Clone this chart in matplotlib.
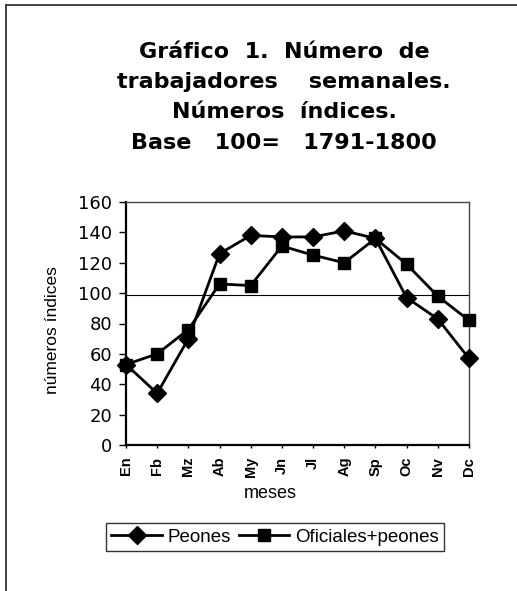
import matplotlib
matplotlib.use("Agg")
import matplotlib.pyplot as plt
from matplotlib.lines import Line2D

months = ["En", "Fb", "Mz", "Ab", "My", "Jn", "Jl", "Ag", "Sp", "Oc", "Nv", "Dc"]
peones = [53, 34, 70, 126, 138, 137, 137, 141, 136, 97, 83, 57]
oficiales = [53, 60, 76, 106, 105, 131, 125, 120, 136, 119, 98, 82]
ref_level = 99
yticks = [0, 20, 40, 60, 80, 100, 120, 140, 160]
title_lines = ["Gráfico  1.  Número  de",
               "trabajadores    semanales.",
               "Números  índices.",
               "Base   100=   1791-1800"]

plt.rcParams['font.family'] = ['Liberation Sans', 'DejaVu Sans']

W, H = 517, 591
fig = plt.figure(figsize=(W / 100, H / 100), dpi=100)
fig.patch.set_facecolor('white')

# outer frame (left and top lines)
fig.add_artist(Line2D([6 / W, 6 / W], [0, 1 - 5 / H], color='#333333', lw=1.3,
                      transform=fig.transFigure))
fig.add_artist(Line2D([6 / W, 1], [1 - 5 / H, 1 - 5 / H], color='#333333', lw=1.3,
                      transform=fig.transFigure))

# title
title_y = [52, 82, 112, 143]
for t, yy in zip(title_lines, title_y):
    fig.text(284 / W, 1 - yy / H, t, ha='center', va='center', fontsize=16,
             fontweight='bold', color='black', family='DejaVu Sans')

ax = fig.add_axes([126 / W, 1 - 445 / H, (469 - 126) / W, (445 - 202) / H])
x = list(range(len(months)))
ax.plot(x, peones, color='black', lw=2, marker='D', markersize=9.5,
        label='Peones', clip_on=False, zorder=3)
ax.plot(x, oficiales, color='black', lw=2, marker='s', markersize=8,
        label='Oficiales+peones', clip_on=False, zorder=3)
ax.axhline(ref_level, color='black', lw=0.8, zorder=1)

ax.set_xlim(0, len(months) - 1)
ax.set_ylim(0, 160)
ax.set_yticks(yticks)
ax.set_yticklabels([str(v) for v in yticks], fontsize=13, family='DejaVu Sans')
ax.set_xticks(x)
ax.set_xticklabels(months, rotation=90, fontsize=10.5, fontweight='bold')
ax.tick_params(axis='y', direction='out', length=5, width=1, pad=5)
ax.tick_params(axis='x', direction='out', length=2.5, width=1, pad=6)

for s in ['left', 'bottom']:
    ax.spines[s].set_linewidth(1.6)
for s in ['top', 'right']:
    ax.spines[s].set_linewidth(1.0)
    ax.spines[s].set_color('#444444')

ax.set_ylabel('números índices', fontsize=12.5)
ax.yaxis.set_label_coords(-0.192, 0.473)
ax.set_xlabel('meses', fontsize=13)
ax.xaxis.set_label_coords(0.42, -0.165)

leg = fig.legend(loc='center', bbox_to_anchor=(275 / W, 1 - 537 / H), ncol=2,
                 fontsize=13.5, frameon=True, fancybox=False, edgecolor='black',
                 handlelength=2.7, handletextpad=0.3, columnspacing=0.4,
                 borderpad=0.3)
leg.get_frame().set_linewidth(1.0)

fig.savefig('out.png', dpi=100, facecolor='white')
